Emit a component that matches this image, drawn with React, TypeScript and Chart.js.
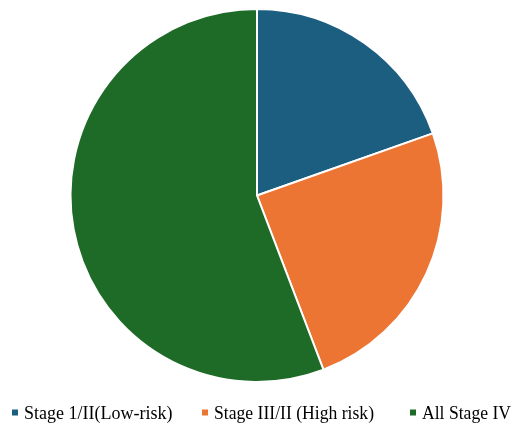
import React, { useEffect, useRef } from "react";
import { Chart, registerables } from "chart.js";

Chart.register(...registerables);

const categories = ["Stage 1/II(Low-risk)", "Stage III/II (High risk)", "All Stage IV"];
const shares = [19.6, 24.6, 55.8];
const sliceColors = ["#1B5E80", "#EC7533", "#1E6B28"];

const FONT = "18px 'Times New Roman', 'Liberation Serif', 'DejaVu Serif', serif";

// Legend slots along the bottom edge: left of each marker and the room for its text.
const legendSlotX = [12, 202, 410];
const legendTextRoom = [152, 160, 89];

// Single-row legend under the pie, drawn on the canvas.
const bottomLegend = {
  id: "bottomLegend",
  afterDraw(chart: any) {
    const ctx = chart.ctx as CanvasRenderingContext2D;
    const labels: string[] = chart.data.labels;
    const colors: string[] = chart.data.datasets[0].backgroundColor;
    const box = 6;
    const boxGap = 6;
    ctx.save();
    ctx.font = FONT;
    ctx.textBaseline = "alphabetic";
    ctx.textAlign = "left";
    const baseline = 418.5;
    labels.forEach((t, i) => {
      const x = legendSlotX[i];
      ctx.fillStyle = colors[i];
      ctx.fillRect(x, 409.5, box, box);
      ctx.fillStyle = "#000";
      ctx.fillText(t, x + box + boxGap, baseline, legendTextRoom[i]);
    });
    ctx.restore();
  },
};

export default function App() {
  const canvasRef = useRef<HTMLCanvasElement | null>(null);

  useEffect(() => {
    if (!canvasRef.current) return;
    const chart = new Chart(canvasRef.current, {
      type: "pie",
      data: {
        labels: categories,
        datasets: [
          {
            data: shares,
            backgroundColor: sliceColors,
            borderColor: "#ffffff",
            borderWidth: 2,
          },
        ],
      },
      options: {
        responsive: false,
        animation: false,
        layout: { padding: { top: 8, bottom: 42, left: 3, right: 0 } },
        plugins: {
          legend: { display: false },
          tooltip: { enabled: false },
        },
      },
      plugins: [bottomLegend],
    });
    let alive = true;
    if (document.fonts && document.fonts.load) {
      document.fonts.load(FONT).then(() => {
        if (alive) chart.draw();
      });
    }
    return () => {
      alive = false;
      chart.destroy();
    };
  }, []);

  return (
    <div style={{ position: "fixed", left: 0, top: 0, width: 511, height: 425, background: "#fff" }}>
      <canvas ref={canvasRef} width={511} height={425} />
    </div>
  );
}
